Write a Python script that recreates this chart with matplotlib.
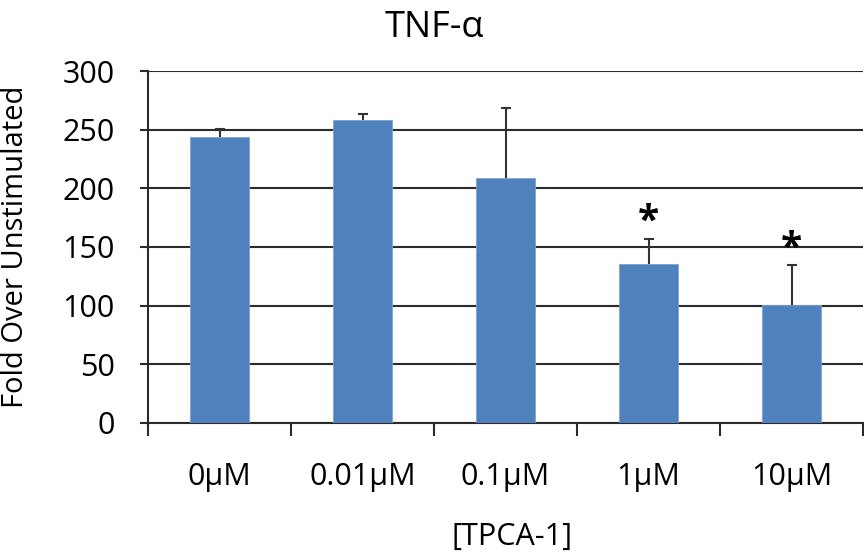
import matplotlib.pyplot as plt
import numpy as np

plt.rcParams['font.family'] = ['Open Sans', 'DejaVu Sans']

# 数据
doses = ['0μM', '0.01μM', '0.1μM', '1μM', '10μM']
fold = [243.5, 258.5, 209, 135.5, 100.5]
err = [7, 5, 59.5, 21.5, 34]
signif = [False, False, False, True, True]

fig = plt.figure(figsize=(8.64, 5.56), dpi=100)
ax = fig.add_axes([148 / 864, 133 / 556, 715 / 864, 352 / 556])

x = np.arange(len(doses))
ax.bar(x, fold, width=0.41, color='#4F81BD', edgecolor='#7FA3D1', linewidth=0.6, zorder=3)
# 误差线只画上半部分，压在柱子下面
_, caps, _ = ax.errorbar(x, fold, yerr=[np.zeros(len(err)), err], fmt='none', ecolor='#333333',
                         elinewidth=1.5, capsize=3.5, capthick=1.5, zorder=2)
caps[0].set_visible(False)

# 显著性标记
for xi, f, e, s in zip(x, fold, err, signif):
    if s:
        ax.text(xi, f + e + 14, '*', ha='center', va='center', fontsize=28, fontweight='bold')

ax.set_xlim(-0.5, len(doses) - 0.5)
ax.set_ylim(0, 300)
ax.set_yticks(range(0, 301, 50))
ax.yaxis.grid(True, color='#2b2b2b', linewidth=1.5, zorder=0)
ax.set_axisbelow(True)

ax.set_xticks(x)
ax.set_xticklabels(doses, fontsize=22)
ax.tick_params(axis='x', length=0, pad=28)
ax.set_xticks(np.arange(-0.5, len(doses)), minor=True)
ax.tick_params(axis='x', which='minor', length=9, width=1.5, color='#2b2b2b', direction='out')
ax.tick_params(axis='y', labelsize=22, length=6, width=1.5, color='#2b2b2b', pad=18)

for side in ['top', 'right']:
    ax.spines[side].set_visible(False)
ax.spines['left'].set_linewidth(1.5)
ax.spines['left'].set_color('#2b2b2b')
ax.spines['bottom'].set_linewidth(1.5)
ax.spines['bottom'].set_color('#2b2b2b')

ax.set_ylabel('Fold Over Unstimulated', fontsize=21)
ax.yaxis.set_label_coords((30 - 148) / 715, 0.5)
ax.set_xlabel('[TPCA-1]', fontsize=22)
ax.xaxis.set_label_coords((512 - 148) / 715, -(537 - 423) / 352)
ax.xaxis.label.set_va('center')
fig.text(434 / 864, 1 - 28 / 556, 'TNF-α', fontsize=26, ha='center', va='center')

fig.savefig('out.png', dpi=100)
